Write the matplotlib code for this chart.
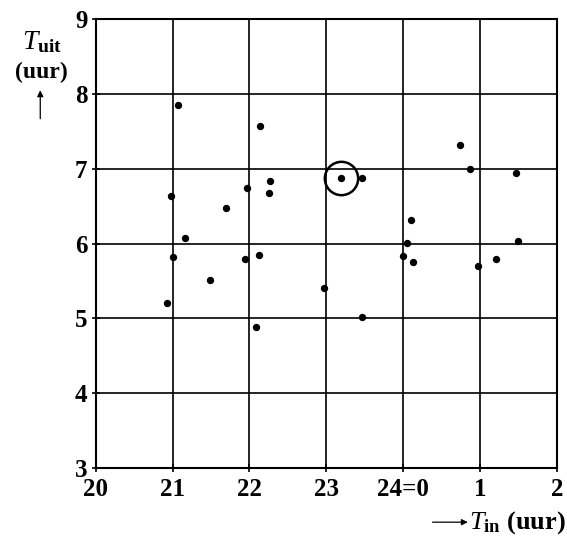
import numpy as np
import matplotlib.pyplot as plt

plt.rcParams['font.family'] = 'Liberation Serif'
plt.rcParams['mathtext.fontset'] = 'custom'
plt.rcParams['mathtext.rm'] = 'Liberation Serif'
plt.rcParams['mathtext.it'] = 'Liberation Serif:italic'
plt.rcParams['mathtext.bf'] = 'Liberation Serif:bold'

# tijdstip in (x) en tijdstip uit (y), 24=0 -> 25 = 1 uur, 26 = 2 uur
t_in = [21.07, 22.14, 22.27, 22.26, 21.97, 20.98, 21.69, 21.16,
        23.19, 23.46, 24.74, 24.87, 25.47, 24.10, 24.05,
        24.00, 24.13, 24.97, 25.21, 25.50, 22.97, 23.46,
        21.00, 21.94, 22.13, 21.48, 20.93, 22.08]
t_uit = [7.85, 7.57, 6.83, 6.68, 6.74, 6.63, 6.47, 6.08,
         6.88, 6.87, 7.31, 7.00, 6.94, 6.32, 6.01,
         5.84, 5.76, 5.70, 5.80, 6.04, 5.40, 5.02,
         5.82, 5.80, 5.85, 5.51, 5.20, 4.88]
omcirkeld = (23.19, 6.88)

x_ticks = [20, 21, 22, 23, 24, 25, 26]
x_labels = ['20', '21', '22', '23', '24=0', '1', '2']
y_ticks = [3, 4, 5, 6, 7, 8, 9]

fig = plt.figure(figsize=(5.67, 5.40), dpi=100)
ax = fig.add_axes([0.169, 0.133, 0.813, 0.832])

ax.scatter(t_in, t_uit, s=28, color='black', zorder=3, linewidths=0)
ax.plot(omcirkeld[0], omcirkeld[1], 'o', ms=24, mfc='none', mec='black', mew=1.8, zorder=4)

ax.set_xlim(20, 26)
ax.set_ylim(3, 9)
ax.set_xticks(x_ticks)
ax.set_xticklabels(x_labels)
ax.set_yticks(y_ticks)
ax.grid(True, color='black', linewidth=1.2)
ax.tick_params(direction='inout', length=6, width=1.2, labelsize=18)
ax.tick_params(axis='x', pad=4)
ax.tick_params(axis='y', pad=3)
for lab in ax.get_xticklabels() + ax.get_yticklabels():
    lab.set_fontweight('bold')
for s in ax.spines.values():
    s.set_linewidth(1.5)

# aslabels
fig.text(0.075, 0.922, r'$T_{\mathbf{uit}}$', fontsize=20, ha='center', va='center')
fig.text(0.073, 0.866, '(uur)', fontsize=17, fontweight='bold', ha='center', va='center')
fig.add_artist(plt.Annotation('', xy=(0.071, 0.838), xytext=(0.071, 0.775),
                              xycoords='figure fraction',
                              arrowprops=dict(arrowstyle='-|>', color='black', lw=0.9,
                                              mutation_scale=9)))
fig.text(0.997, 0.033, r'$T_{\mathbf{in}}$' + ' ' + r'$\mathbf{(uur)}$', fontsize=19,
         ha='right', va='center')
fig.add_artist(plt.Annotation('', xy=(0.83, 0.033), xytext=(0.758, 0.033),
                              xycoords='figure fraction',
                              arrowprops=dict(arrowstyle='-|>', color='black', lw=0.9,
                                              mutation_scale=9)))

fig.savefig('out.png', dpi=100)
